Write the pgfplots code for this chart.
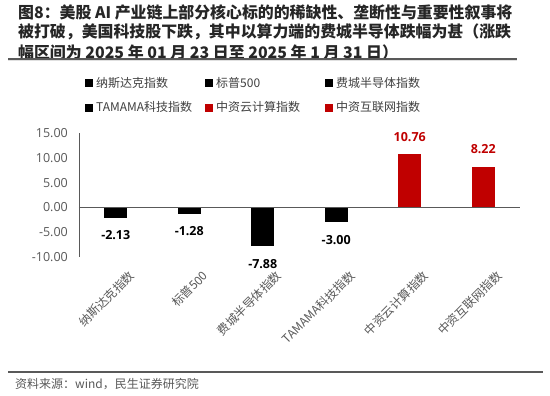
\documentclass[border=0pt]{standalone}
\usepackage{pgfplots}
\pgfplotsset{compat=1.18}
\usepackage{fontspec}
\setmainfont{Noto Sans CJK SC}
\newfontfamily\numfont{Open Sans}
\definecolor{myred}{HTML}{C00000}
\definecolor{axgray}{HTML}{595959}
\definecolor{txtgray}{HTML}{404040}
\begin{document}
\begin{tikzpicture}[x=1pt,y=1pt]
\useasboundingbox (0,0) rectangle (550,396);
\fill[white] (0,0) rectangle (550,396);
\begin{scope}[every node/.style={anchor=west, inner sep=0pt, font=\fontsize{15.9}{18}\selectfont\bfseries, text=black!85}]
\node at (18,384) {图8：美股 AI 产业链上部分核心标的的稀缺性、垄断性与重要性叙事将};
\node at (18,364) {被打破，美国科技股下跌，其中以算力端的费城半导体跌幅为甚（涨跌};
\node at (18,344) {幅区间为 2025 年 01 月 23 日至 2025 年 1 月 31 日）};
\end{scope}
\draw[axgray, line width=1.5pt] (8,337) -- (517,337);
\draw[black!12, line width=0.6pt] (8,335.5) -- (517,335.5);
\draw[axgray, line width=1.2pt] (8,24) -- (543,24);
\node[anchor=west, inner sep=0pt, font=\fontsize{12}{14}\selectfont, text=axgray] at (15,12) {资料来源：wind，民生证券研究院};
\begin{axis}[
  at={(79pt,139pt)}, anchor=south west,
  scale only axis, width=441pt, height=124pt,
  xmin=-0.5, xmax=5.5, ymin=-10, ymax=15,
  ybar, bar width=23pt, bar shift=0pt,
  legend image code/.code={\fill[#1] (0pt,-4pt) rectangle (8pt,4pt);},
  axis lines*=left,
  x axis line style={draw=none},
  y axis line style={axgray, line width=0.8pt},
  major tick length=0pt,
  ytick={-10,-5,0,5,10,15},
  xtick={0,1,2,3,4,5},
  xticklabels={纳斯达克指数, 标普500, 费城半导体指数, TAMAMA科技指数, 中资云计算指数, 中资互联网指数},
  xticklabel style={rotate=45, anchor=east, xshift=0pt, yshift=-23pt, font=\fontsize{12}{14}\selectfont, text=axgray, inner sep=0pt},
  yticklabel style={anchor=east, xshift=-11pt, font=\numfont\fontsize{12.5}{14}\selectfont, text=axgray, inner sep=0pt},
  /pgf/number format/.cd, fixed, zerofill, precision=2, assume math mode=true, /pgfplots/.cd,
  nodes near coords,
  every node near coord/.append style={font=\numfont\bfseries\fontsize{12.5}{14}\selectfont, inner xsep=0pt, inner ysep=12.5pt},
  legend columns=3,
  legend style={draw=none, fill=none, at={(axis description cs:0.0136,1.46)}, anchor=north west, inner sep=0pt,
    nodes={inner sep=1pt, anchor=west, font=\fontsize{12}{14}\selectfont, text=txtgray},
    column sep=0pt, row sep=11pt,
    /tikz/every even column/.append style={column sep=4pt},
    /tikz/every odd column/.append style={column sep=2pt}},
  clip=false,
]
\addplot[fill=black, draw=none, nodes near coords style={text=black}] coordinates {(0,-2.13)};
\addlegendentry{\makebox[104pt][l]{纳斯达克指数}}
\addplot[fill=black, draw=none, nodes near coords style={text=black}] coordinates {(1,-1.28)};
\addlegendentry{\makebox[104pt][l]{标普500}}
\addplot[fill=black, draw=none, nodes near coords style={text=black}] coordinates {(2,-7.88)};
\addlegendentry{\makebox[104pt][l]{费城半导体指数}}
\addplot[fill=black, draw=none, nodes near coords style={text=black}] coordinates {(3,-3.00)};
\addlegendentry{\makebox[104pt][l]{TAMAMA科技指数}}
\addplot[fill=myred, draw=none, nodes near coords style={text=myred}] coordinates {(4,10.76)};
\addlegendentry{\makebox[104pt][l]{中资云计算指数}}
\addplot[fill=myred, draw=none, nodes near coords style={text=myred}] coordinates {(5,8.22)};
\addlegendentry{\makebox[104pt][l]{中资互联网指数}}
\draw[axgray, line width=1pt] (axis cs:-0.5,0) -- (axis cs:5.5,0);
\end{axis}
\end{tikzpicture}
\end{document}
